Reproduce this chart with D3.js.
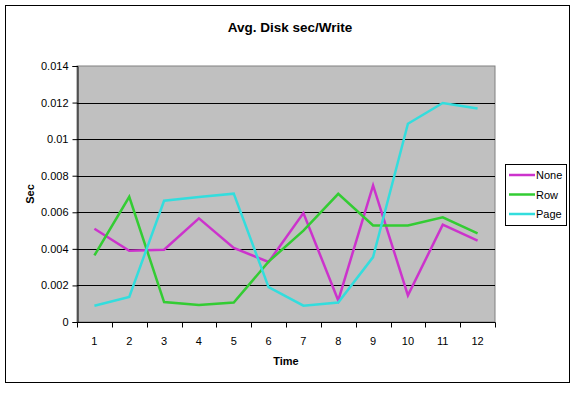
<!DOCTYPE html>
<html>
<head>
<meta charset="utf-8">
<script src="https://cdn.jsdelivr.net/npm/d3@7/dist/d3.min.js"></script>
<style>
  body { margin: 0; background: #fff; }
  svg text { font-family: "Liberation Sans", Arial, sans-serif; fill: #000; }
</style>
</head>
<body>
<script>
// data
const times = ['1', '2', '3', '4', '5', '6', '7', '8', '9', '10', '11', '12'];
const noneVals = [0.0051, 0.0039, 0.00395, 0.00567, 0.00405, 0.00328, 0.00596, 0.00118, 0.00747, 0.00146, 0.00532, 0.00445];
const rowVals = [0.00364, 0.00685, 0.00109, 0.00093, 0.00106, 0.0033, 0.0050, 0.00701, 0.00528, 0.00528, 0.00572, 0.00485];
const pageVals = [0.00089, 0.00137, 0.00663, 0.00684, 0.00702, 0.00191, 0.00089, 0.00107, 0.00355, 0.01084, 0.01198, 0.01167];
const yTicks = [0, 0.002, 0.004, 0.006, 0.008, 0.01, 0.012, 0.014];
const seriesNames = ['None', 'Row', 'Page'];
const seriesColors = ['#cc33cc', '#33cc33', '#33dddd'];

const series = [noneVals, rowVals, pageVals].map((vals, i) => ({
  name: seriesNames[i], color: seriesColors[i], values: vals
}));

const W = 580, H = 393;
const plot = { left: 77, top: 66, right: 495, bottom: 322 };

const svg = d3.select('body').append('svg')
  .attr('width', W)
  .attr('height', H);

// outer chart frame
svg.append('rect')
  .attr('x', 5.5).attr('y', 5.5)
  .attr('width', 564).attr('height', 377)
  .attr('fill', '#fff')
  .attr('stroke', '#000')
  .attr('stroke-width', 1);

const x = d3.scaleBand()
  .domain(times)
  .range([plot.left, plot.right]);

const y = d3.scaleLinear()
  .domain([0, 0.014])
  .range([plot.bottom, plot.top]);

// grey plot area
svg.append('rect')
  .attr('x', plot.left).attr('y', plot.top)
  .attr('width', plot.right - plot.left)
  .attr('height', plot.bottom - plot.top)
  .attr('fill', '#c0c0c0')
  .attr('stroke', '#808080')
  .attr('stroke-width', 1);

// gridlines
svg.append('g')
  .selectAll('line')
  .data(yTicks.filter(d => d > 0 && d < 0.014))
  .join('line')
  .attr('x1', plot.left).attr('x2', plot.right)
  .attr('y1', d => Math.round(y(d)) + 0.5)
  .attr('y2', d => Math.round(y(d)) + 0.5)
  .attr('stroke', '#000')
  .attr('stroke-width', 1);

// y axis
const fmt = d => String(+d.toFixed(3));
const yAxis = svg.append('g')
  .attr('transform', `translate(${plot.left + 0.5},0)`)
  .call(d3.axisLeft(y).tickValues(yTicks).tickFormat(fmt).tickSize(5).tickPadding(4));
yAxis.select('.domain').attr('stroke', '#000');
yAxis.selectAll('line').attr('stroke', '#000');
yAxis.selectAll('text').attr('font-size', 11).attr('fill', '#000')
  .style('font-family', '"Liberation Sans", Arial, sans-serif');

// x axis: ticks sit between categories
const xAxisG = svg.append('g')
  .attr('transform', `translate(0,${plot.bottom + 0.5})`);
xAxisG.append('line')
  .attr('x1', plot.left).attr('x2', plot.right + 0.5)
  .attr('stroke', '#000');
const edges = times.map(t => x(t)).concat([plot.right]);
xAxisG.selectAll('line.tick')
  .data(edges)
  .join('line')
  .attr('class', 'tick')
  .attr('x1', d => Math.round(d) + 0.5).attr('x2', d => Math.round(d) + 0.5)
  .attr('y1', 0).attr('y2', 5)
  .attr('stroke', '#000');
xAxisG.selectAll('text')
  .data(times)
  .join('text')
  .attr('x', d => x(d) + x.bandwidth() / 2)
  .attr('y', 22)
  .attr('text-anchor', 'middle')
  .attr('font-size', 11)
  .text(d => d);

// lines
const line = d3.line()
  .x((d, i) => x(times[i]) + x.bandwidth() / 2)
  .y(d => y(d));

svg.append('g')
  .selectAll('path')
  .data(series)
  .join('path')
  .attr('fill', 'none')
  .attr('stroke', d => d.color)
  .attr('stroke-width', 2.5)
  .attr('stroke-linejoin', 'miter')
  .attr('d', d => line(d.values));

// titles
svg.append('text')
  .attr('x', 290).attr('y', 32)
  .attr('text-anchor', 'middle')
  .attr('font-size', 13.5)
  .attr('font-weight', 'bold')
  .text('Avg. Disk sec/Write');

svg.append('text')
  .attr('x', 286).attr('y', 365)
  .attr('text-anchor', 'middle')
  .attr('font-size', 11)
  .attr('font-weight', 'bold')
  .text('Time');

svg.append('text')
  .attr('transform', `translate(34,${(plot.top + plot.bottom) / 2}) rotate(-90)`)
  .attr('text-anchor', 'middle')
  .attr('font-size', 11)
  .attr('font-weight', 'bold')
  .text('Sec');

// legend
const legend = svg.append('g');
legend.append('rect')
  .attr('x', 505.5).attr('y', 164.5)
  .attr('width', 61).attr('height', 61)
  .attr('fill', '#fff')
  .attr('stroke', '#000');
const item = legend.selectAll('g.item')
  .data(series)
  .join('g')
  .attr('class', 'item')
  .attr('transform', (d, i) => `translate(0,${175 + i * 19.5})`);
item.append('line')
  .attr('x1', 509).attr('x2', 535)
  .attr('stroke', d => d.color)
  .attr('stroke-width', 2.5);
item.append('text')
  .attr('x', 536).attr('y', 4)
  .attr('font-size', 11)
  .text(d => d.name);
</script>
</body>
</html>
